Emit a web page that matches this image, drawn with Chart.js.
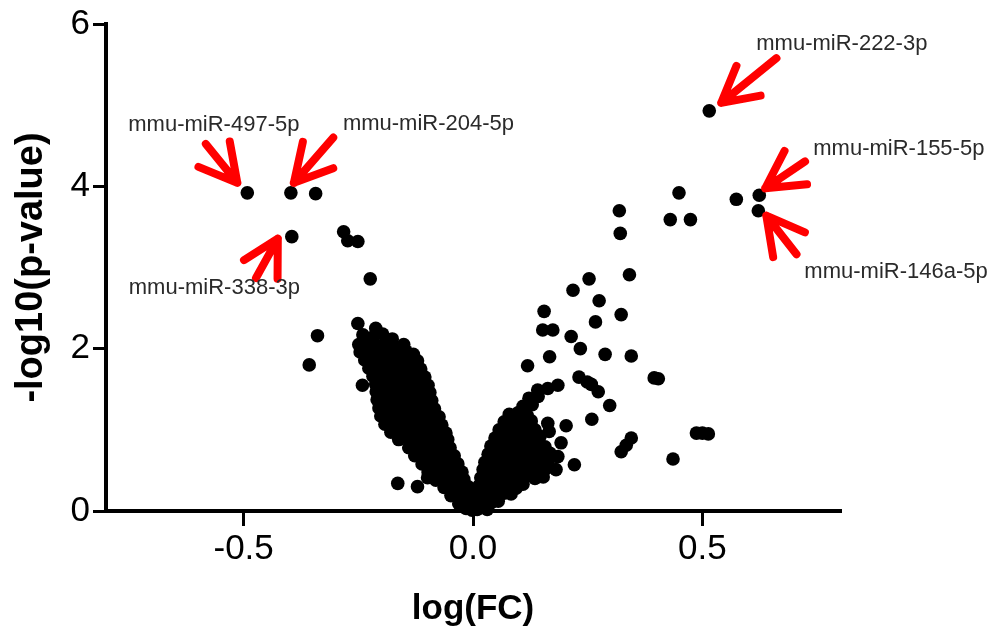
<!DOCTYPE html>
<html>
<head>
<meta charset="utf-8">
<title>Volcano plot</title>
<script src="https://cdn.jsdelivr.net/npm/chart.js@4.4.1/dist/chart.umd.min.js"></script>
<style>
  html, body { margin: 0; padding: 0; background: #fff; }
  canvas { display: block; }
</style>
</head>
<body>
<canvas id="volcano" width="995" height="637"></canvas>
<script>
// [logFC, -log10(p)] per miRNA
const downPoints = [
  [-0.343,3.91],[-0.282,3.44],[-0.273,3.33],[-0.251,3.32],[-0.224,2.86],
  [-0.339,2.16],[-0.357,1.80],[-0.241,1.55],[-0.179,2.10],
  [-0.164,0.34],[-0.121,0.30],[-0.099,0.41],
  [-0.251,2.31],[-0.212,2.25],[-0.240,2.17],[-0.219,2.14],[-0.197,2.18],[-0.176,2.12],
  [-0.249,2.05],[-0.229,2.08],[-0.210,2.04],[-0.190,2.07],[-0.170,2.02],[-0.151,2.05],
  [-0.246,1.96],[-0.225,1.99],[-0.205,1.95],[-0.186,1.98],[-0.166,1.94],[-0.146,1.97],[-0.130,1.93],
  [-0.236,1.86],[-0.216,1.89],[-0.197,1.85],[-0.177,1.88],[-0.157,1.84],[-0.138,1.87],[-0.121,1.85],
  [-0.227,1.76],[-0.207,1.78],[-0.188,1.75],[-0.168,1.79],[-0.148,1.74],[-0.129,1.77],[-0.114,1.75],
  [-0.218,1.66],[-0.199,1.69],[-0.179,1.65],[-0.159,1.68],[-0.140,1.64],[-0.120,1.67],[-0.105,1.65],
  [-0.212,1.56],[-0.192,1.58],[-0.172,1.55],[-0.153,1.59],[-0.133,1.54],[-0.114,1.57],[-0.098,1.55],
  [-0.211,1.47],[-0.192,1.49],[-0.172,1.46],[-0.153,1.50],[-0.133,1.45],[-0.114,1.48],[-0.094,1.46],
  [-0.209,1.37],[-0.190,1.39],[-0.170,1.36],[-0.151,1.40],[-0.131,1.35],[-0.111,1.38],[-0.090,1.36],
  [-0.205,1.27],[-0.186,1.30],[-0.166,1.26],[-0.146,1.29],[-0.127,1.25],[-0.107,1.28],[-0.084,1.26],
  [-0.201,1.17],[-0.179,1.20],[-0.157,1.16],[-0.135,1.19],[-0.114,1.15],[-0.092,1.18],[-0.074,1.16],
  [-0.192,1.07],[-0.170,1.10],[-0.148,1.06],[-0.127,1.09],[-0.105,1.05],[-0.083,1.08],[-0.068,1.06],
  [-0.179,0.97],[-0.157,1.00],[-0.135,0.96],[-0.114,0.99],[-0.092,0.95],[-0.070,0.98],[-0.059,0.96],
  [-0.162,0.88],[-0.140,0.90],[-0.118,0.87],[-0.096,0.89],[-0.074,0.86],[-0.055,0.88],
  [-0.140,0.78],[-0.118,0.80],[-0.096,0.77],[-0.074,0.79],[-0.050,0.78],
  [-0.127,0.68],[-0.105,0.70],[-0.083,0.67],[-0.061,0.69],[-0.041,0.68],
  [-0.111,0.58],[-0.090,0.60],[-0.068,0.57],[-0.048,0.59],[-0.033,0.58],
  [-0.098,0.48],[-0.076,0.50],[-0.055,0.47],[-0.035,0.49],[-0.024,0.48],
  [-0.081,0.38],[-0.059,0.40],[-0.037,0.37],[-0.020,0.39],
  [-0.063,0.29],[-0.044,0.31],[-0.026,0.28],[-0.011,0.30],
  [-0.048,0.19],[-0.031,0.21],[-0.015,0.18],[-0.002,0.20],
  [-0.031,0.09],[-0.015,0.11],[-0.002,0.08],
  [-0.015,0.03],[-0.002,0.01],[0.009,0.02]
];

const upPoints = [
  [0.449,3.92],[0.430,3.59],[0.474,3.59],[0.574,3.84],[0.319,3.70],[0.321,3.42],
  [0.341,2.91],[0.253,2.86],[0.218,2.72],[0.275,2.59],[0.155,2.46],[0.323,2.42],
  [0.267,2.33],[0.152,2.23],[0.174,2.23],[0.214,2.15],[0.234,2.00],[0.167,1.90],
  [0.288,1.93],[0.345,1.91],[0.119,1.79],[0.231,1.65],[0.249,1.59],[0.258,1.56],
  [0.273,1.47],[0.298,1.30],[0.395,1.64],[0.404,1.63],[0.259,1.13],[0.345,0.90],
  [0.334,0.81],[0.323,0.73],[0.436,0.64],[0.487,0.96],[0.500,0.96],[0.513,0.95],
  [0.221,0.57],[0.203,1.05],[0.185,0.67],[0.192,0.84],[0.141,1.49],[0.163,1.51],
  [0.185,1.55],[0.127,1.33],[0.111,1.20],[0.163,1.08],[0.166,0.98],[0.094,0.28],
  [0.122,1.39],[0.142,1.41],
  [0.109,1.29],[0.129,1.31],
  [0.079,1.19],[0.098,1.21],[0.118,1.18],
  [0.068,1.10],[0.087,1.12],[0.107,1.09],[0.127,1.11],
  [0.057,1.00],[0.076,1.02],[0.096,0.99],[0.116,1.01],[0.135,1.00],
  [0.048,0.90],[0.068,0.92],[0.087,0.89],[0.107,0.91],[0.127,0.90],[0.146,0.92],
  [0.039,0.80],[0.059,0.82],[0.079,0.79],[0.098,0.81],[0.118,0.80],[0.138,0.82],[0.157,0.79],
  [0.033,0.70],[0.052,0.72],[0.072,0.69],[0.092,0.71],[0.111,0.70],[0.131,0.72],[0.151,0.69],[0.168,0.71],
  [0.026,0.60],[0.046,0.62],[0.066,0.59],[0.085,0.61],[0.105,0.60],[0.124,0.62],[0.144,0.59],[0.164,0.61],
  [0.022,0.51],[0.041,0.53],[0.061,0.50],[0.081,0.52],[0.100,0.51],[0.120,0.53],[0.140,0.50],[0.159,0.52],[0.181,0.51],
  [0.017,0.41],[0.037,0.43],[0.057,0.40],[0.076,0.42],[0.096,0.41],[0.116,0.43],[0.135,0.40],[0.153,0.42],
  [0.013,0.31],[0.033,0.33],[0.052,0.30],[0.072,0.32],[0.092,0.31],[0.109,0.33],
  [0.009,0.21],[0.028,0.23],[0.048,0.20],[0.068,0.22],[0.083,0.21],
  [0.004,0.11],[0.022,0.13],[0.039,0.10],[0.055,0.12],
  [0.000,0.03],[0.015,0.05],[0.031,0.02]
];

// named miRNAs
const highlightNames = ['mmu-miR-497-5p', 'mmu-miR-204-5p', 'mmu-miR-338-3p',
                        'mmu-miR-222-3p', 'mmu-miR-155-5p', 'mmu-miR-146a-5p'];
const highlightFC = [-0.492, -0.397, -0.395, 0.515, 0.624, 0.622];
const highlightP  = [3.92, 3.92, 3.38, 4.93, 3.89, 3.70];

const xTicks = [-0.5, 0, 0.5];
const yTicks = [0, 2, 4, 6];

// arrow + label placement around each named point (pixels)
const calloutStyle = [
  { tip: [-10, -10], angle: 51,   len: 50, wing: 42, label: [-119, -68] },
  { tip: [3, -10],   angle: 131,  len: 60, wing: 42, label: [52, -69] },
  { tip: [-14, 2],   angle: -61,  len: 45, wing: 40, label: [-163, 51] },
  { tip: [12, -8],   angle: 141,  len: 71, wing: 40, label: [47, -67] },
  { tip: [6, -7],    angle: 146,  len: 48, wing: 42, label: [54, -46] },
  { tip: [8, 5],     angle: -128, len: 49, wing: 42, label: [46, 61] }
];

const fontFamily = '"Liberation Sans", Arial, Helvetica, sans-serif';

const allPoints = downPoints.concat(upPoints)
  .concat(highlightFC.map((fc, i) => [fc, highlightP[i]]))
  .map(p => ({ x: p[0], y: p[1] }));

const callouts = {
  id: 'callouts',
  afterDatasetsDraw(chart) {
    const ctx = chart.ctx;
    const xs = chart.scales.x, ys = chart.scales.y;
    highlightNames.forEach((name, i) => {
      const px = xs.getPixelForValue(highlightFC[i]);
      const py = ys.getPixelForValue(highlightP[i]);
      const c = calloutStyle[i];
      const tx = px + c.tip[0], ty = py + c.tip[1];
      const a = c.angle * Math.PI / 180;
      ctx.save();
      ctx.strokeStyle = '#ff0000';
      ctx.lineWidth = 8;
      ctx.lineCap = 'round';
      ctx.lineJoin = 'round';
      ctx.beginPath();
      ctx.moveTo(tx - Math.cos(a) * c.len, ty - Math.sin(a) * c.len);
      ctx.lineTo(tx, ty);
      [-1, 1].forEach(s => {
        const w = a + Math.PI + s * 0.5;
        ctx.moveTo(tx + Math.cos(w) * c.wing, ty + Math.sin(w) * c.wing);
        ctx.lineTo(tx, ty);
      });
      ctx.stroke();
      ctx.fillStyle = '#2a2a2a';
      ctx.font = '22px ' + fontFamily;
      ctx.textBaseline = 'middle';
      ctx.textAlign = 'left';
      ctx.fillText(name, px + c.label[0], py + c.label[1]);
      ctx.restore();
    });
  }
};

new Chart(document.getElementById('volcano').getContext('2d'), {
  type: 'scatter',
  data: {
    datasets: [{
      data: allPoints,
      backgroundColor: '#000',
      borderWidth: 0,
      pointRadius: 6.8,
      pointHoverRadius: 6.8,
      clip: false
    }]
  },
  options: {
    responsive: false,
    animation: false,
    devicePixelRatio: 1,
    layout: { padding: { top: 23, right: 155, bottom: 0, left: 0 } },
    plugins: {
      legend: { display: false },
      tooltip: { enabled: false }
    },
    scales: {
      x: {
        type: 'linear',
        min: -0.8,
        max: 0.8,
        afterBuildTicks: s => { s.ticks = xTicks.map(v => ({ value: v })); },
        afterFit: s => { s.height = 126; },
        border: { color: '#000', width: 4 },
        grid: { drawOnChartArea: false, color: '#000', lineWidth: 3, tickLength: 15 },
        ticks: {
          color: '#000',
          padding: 2,
          font: { family: fontFamily, size: 35 },
          callback: v => Number(v).toFixed(1)
        },
        title: {
          display: true,
          text: 'log(FC)',
          color: '#000',
          font: { family: fontFamily, size: 35, weight: 'bold', lineHeight: 1 },
          padding: { top: 0, bottom: 10 }
        }
      },
      y: {
        type: 'linear',
        min: 0,
        max: 6,
        afterBuildTicks: s => { s.ticks = yTicks.map(v => ({ value: v })); },
        afterFit: s => { s.width = 106; },
        border: { color: '#000', width: 4 },
        grid: { drawOnChartArea: false, color: '#000', lineWidth: 3, tickLength: 13 },
        ticks: {
          color: '#000',
          padding: 3,
          font: { family: fontFamily, size: 35 }
        },
        title: {
          display: true,
          text: '-log10(p-value)',
          color: '#000',
          font: { family: fontFamily, size: 38, weight: 'bold', lineHeight: 1 },
          padding: { top: 13, bottom: 0 }
        }
      }
    }
  },
  plugins: [callouts]
});
</script>
</body>
</html>
